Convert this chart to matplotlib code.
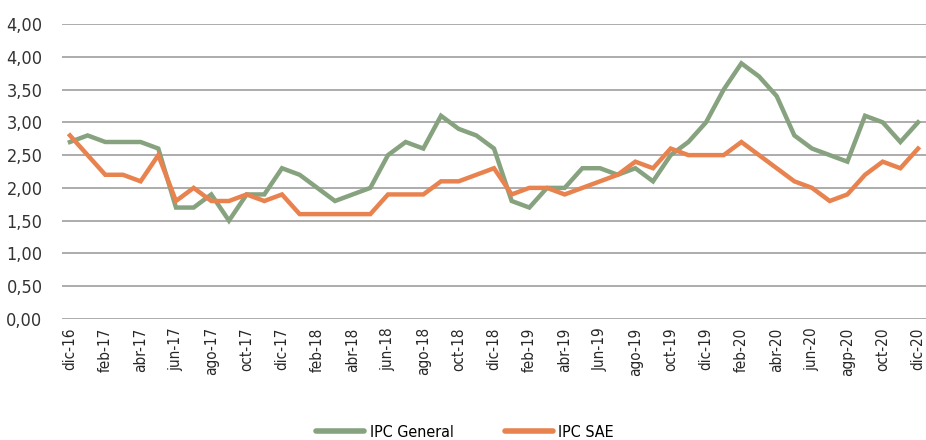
import matplotlib
matplotlib.use("Agg")
import matplotlib.pyplot as plt
from matplotlib.ticker import FixedLocator

months = ["dic-16","ene-17","feb-17","mar-17","abr-17","may-17","jun-17","jul-17","ago-17","sep-17","oct-17","nov-17",
          "dic-17","ene-18","feb-18","mar-18","abr-18","may-18","jun-18","jul-18","ago-18","sep-18","oct-18","nov-18",
          "dic-18","ene-19","feb-19","mar-19","abr-19","may-19","Jun-19","jul-19","ago-19","sep-19","oct-19","nov-19",
          "dic-19","ene-20","feb-20","mar-20","abr-20","may-20","jun-20","jul-20","agp-20","sep-20","oct-20","nov-20",
          "dic-20"]

ipc_general = [2.7, 2.8, 2.7, 2.7, 2.7, 2.6, 1.7, 1.7, 1.9, 1.5, 1.9, 1.9,
               2.3, 2.2, 2.0, 1.8, 1.9, 2.0, 2.5, 2.7, 2.6, 3.1, 2.9, 2.8,
               2.6, 1.8, 1.7, 2.0, 2.0, 2.3, 2.3, 2.2, 2.3, 2.1, 2.5, 2.7,
               3.0, 3.5, 3.9, 3.7, 3.4, 2.8, 2.6, 2.5, 2.4, 3.1, 3.0, 2.7,
               3.0]

ipc_sae = [2.8, 2.5, 2.2, 2.2, 2.1, 2.5, 1.8, 2.0, 1.8, 1.8, 1.9, 1.8,
           1.9, 1.6, 1.6, 1.6, 1.6, 1.6, 1.9, 1.9, 1.9, 2.1, 2.1, 2.2,
           2.3, 1.9, 2.0, 2.0, 1.9, 2.0, 2.1, 2.2, 2.4, 2.3, 2.6, 2.5,
           2.5, 2.5, 2.7, 2.5, 2.3, 2.1, 2.0, 1.8, 1.9, 2.2, 2.4, 2.3,
           2.6]

y_ticks = [0, 0.5, 1.0, 1.5, 2.0, 2.5, 3.0, 3.5, 4.0, 4.5]
y_labels = ["0,00", "0,50", "1,00", "1,50", "2,00", "2,50", "3,00", "3,50", "4,00", "4,00"]

green = "#87a27f"
orange = "#e8834f"

fig = plt.figure(figsize=(9.26, 4.4), dpi=100)
ax = fig.add_axes([62/926, 1-319/440, 1-62/926, (319-24)/440])

x = list(range(len(months)))
ax.plot(x, ipc_general, color=green, lw=3.2, label="IPC General", solid_joinstyle="miter", zorder=3)
ax.plot(x, ipc_sae, color=orange, lw=3.2, label="IPC SAE", solid_joinstyle="miter", zorder=3)

ax.set_xlim(-0.45, 48.45)
ax.set_ylim(0, 4.5)
ax.yaxis.set_major_locator(FixedLocator(y_ticks))
ax.set_yticklabels(y_labels, fontsize=13, family="DejaVu Sans", fontstretch="condensed", color="#333333")
ax.set_xticks(x[::2])
ax.set_xticklabels(months[::2], rotation=90, fontsize=11, color="#262626",
                   family="DejaVu Sans", fontstretch="condensed")
ax.tick_params(axis="y", length=0, pad=14)
ax.tick_params(axis="x", length=0, pad=6)
ax.grid(axis="y", color="#a6a6a6", lw=1.3)
ax.set_axisbelow(True)
for s in ax.spines.values():
    s.set_visible(False)

leg = fig.legend(loc="center", bbox_to_anchor=(465/926, 1 - 432/440), ncol=2, frameon=False,
                 prop={"family": "DejaVu Sans", "stretch": "condensed", "size": 11.5},
                 handlelength=3.0, columnspacing=3.2, handletextpad=0.35)
for line in leg.get_lines():
    line.set_linewidth(4)
    line.set_solid_capstyle("round")

fig.savefig("out.png", dpi=100)
